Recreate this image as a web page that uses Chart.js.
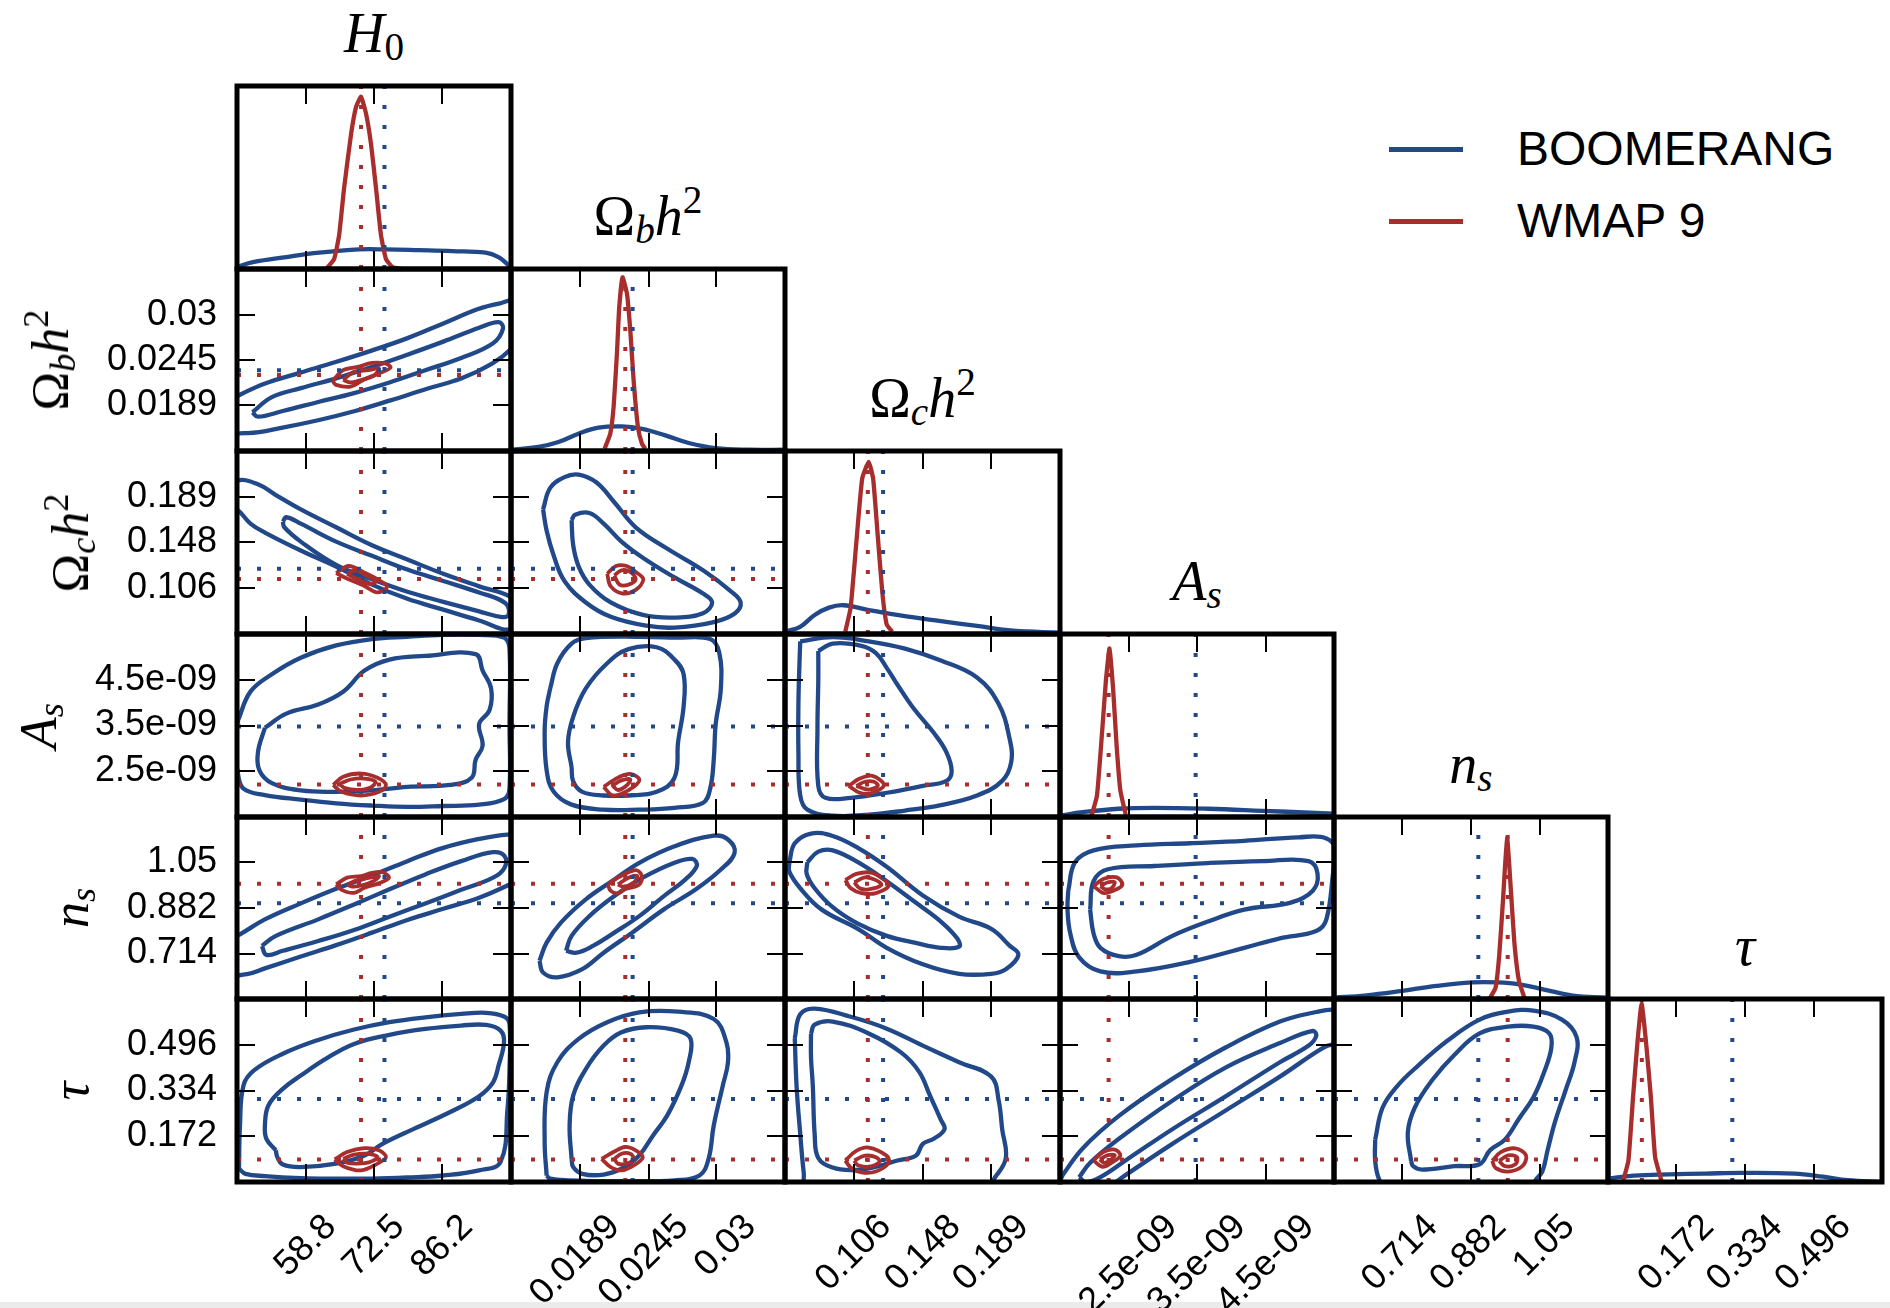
<!DOCTYPE html>
<html><head><meta charset="utf-8">
<script src="https://cdn.jsdelivr.net/npm/chart.js@4/dist/chart.umd.min.js"></script>
<style>
html,body{margin:0;padding:0;background:#fff;}
#wrap{position:relative;width:1890px;height:1308px;overflow:hidden;background:#fff;}
#wrap canvas{position:absolute;}
.math{position:absolute;font-family:'Liberation Serif','DejaVu Serif',serif;color:#000;white-space:nowrap;line-height:1;}
.math i{font-style:italic;}
.math sub,.math sup{font-size:0.7em;line-height:0;}
.math sub{vertical-align:-0.2em;}
.math sup{vertical-align:0.55em;}
.leg{position:absolute;font-family:'Liberation Sans',Arial,sans-serif;font-size:48px;line-height:1;color:#000;white-space:nowrap;}
.legline{position:absolute;height:5px;}
#band{position:absolute;left:0;top:1302px;width:1890px;height:6px;background:#ebebeb;}
</style></head>
<body><div id="wrap"><div id="band"></div></div>
<script>
// ---------------- DATA ----------------
const paramNames = ['H0', 'Omega_b h^2', 'Omega_c h^2', 'A_s', 'n_s', 'tau'];
const paramRanges = [[45, 100], [0.0133, 0.0356], [0.0645, 0.2305], [1.5e-9, 5.5e-9], [0.546, 1.218], [0.01, 0.658]];
const tickValues = [[58.8, 72.5, 86.2], [0.0189, 0.0245, 0.03], [0.106, 0.148, 0.189], [2.5e-9, 3.5e-9, 4.5e-9], [0.714, 0.882, 1.05], [0.172, 0.334, 0.496]];
const tickLabels = [['58.8', '72.5', '86.2'], ['0.0189', '0.0245', '0.03'], ['0.106', '0.148', '0.189'], ['2.5e-09', '3.5e-09', '4.5e-09'], ['0.714', '0.882', '1.05'], ['0.172', '0.334', '0.496']];
const seriesNames = ['BOOMERANG', 'WMAP 9'];
const wmapBest = [69.9, 0.0226, 0.1145, 2.21e-9, 0.972, 0.09];
const boomBest = [74.6, 0.0232, 0.1237, 3.48e-9, 0.9, 0.304];
const diagRange = [0, 1];

// 1D marginals (x value, normalised density)
const boomMarg_H0 = [[45,0.012],[48.2,0.037],[54.9,0.065],[61.5,0.089],[69.5,0.107],[74.9,0.107],[81.5,0.103],[88.2,0.098],[94.9,0.089],[97.5,0.065],[99.2,0.028],[100,0.006]];
const wmapMarg_H0 = [[62.9,0],[64.5,0.055],[65.5,0.185],[66.5,0.443],[67.9,0.738],[68.9,0.886],[69.9,0.941],[70.9,0.849],[71.9,0.683],[72.9,0.443],[73.9,0.185],[74.9,0.055],[76.2,0.01],[78,0]];
const boomMarg_obh2 = [[0.0133,0.007],[0.01553,0.022],[0.01716,0.049],[0.01879,0.095],[0.02042,0.128],[0.02233,0.135],[0.02396,0.122],[0.02586,0.086],[0.02777,0.044],[0.02995,0.016],[0.03266,0.007],[0.0356,0.007]];
const wmapMarg_obh2 = [[0.02092,0.013],[0.02138,0.095],[0.02165,0.241],[0.02192,0.534],[0.02211,0.79],[0.02238,0.954],[0.02274,0.863],[0.02301,0.662],[0.02328,0.388],[0.02363,0.132],[0.02396,0.04],[0.02423,0.013]];
const boomMarg_och2 = [[0.0645,0.013],[0.0736,0.039],[0.0824,0.104],[0.0911,0.144],[0.0998,0.157],[0.115,0.131],[0.1368,0.097],[0.1586,0.07],[0.1804,0.044],[0.2022,0.018],[0.2305,0.008]];
const wmapMarg_och2 = [[0.1009,0.013],[0.1041,0.144],[0.1074,0.483],[0.1111,0.849],[0.115,0.94],[0.1177,0.849],[0.1205,0.535],[0.1233,0.222],[0.1259,0.052],[0.1292,0.013]];
const boomMarg_As = [[1.5e-9,0.008],[1.83e-9,0.026],[2.355e-9,0.045],[2.879e-9,0.05],[3.665e-9,0.045],[4.452e-9,0.034],[4.976e-9,0.026],[5.5e-9,0.018]];
const wmapMarg_As = [[1.961e-9,0.008],[2.04e-9,0.118],[2.119e-9,0.487],[2.171e-9,0.75],[2.223e-9,0.921],[2.276e-9,0.697],[2.328e-9,0.382],[2.381e-9,0.145],[2.459e-9,0.013]];
const boomMarg_ns = [[0.546,0.008],[0.6209,0.019],[0.7089,0.043],[0.797,0.072],[0.8851,0.091],[0.9468,0.091],[1.0,0.081],[1.0613,0.052],[1.1317,0.019],[1.218,0.008]];
const wmapMarg_ns = [[0.9291,0.008],[0.9423,0.062],[0.9511,0.236],[0.96,0.526],[0.9705,0.884],[0.9802,0.584],[0.989,0.294],[0.9996,0.1],[1.0128,0.008]];
const boomMarg_tau = [[0.01,0.019],[0.0708,0.035],[0.1553,0.042],[0.2398,0.046],[0.3243,0.05],[0.451,0.046],[0.5186,0.029],[0.5777,0.01],[0.658,0.0]];
const wmapMarg_tau = [[0.0455,0.004],[0.0582,0.116],[0.0692,0.463],[0.0793,0.753],[0.0894,0.975],[0.1004,0.753],[0.1114,0.463],[0.1215,0.135],[0.1367,0.004]];

// 2D contours: [x, y] (x = column parameter, y = row parameter); 95% and 68% levels
const boom95_obh2_H0 = [[42.8,0.0193],[45.6,0.0202],[50.5,0.02155],[57.7,0.0229],[64.8,0.0242],[72.0,0.0256],[79.1,0.0271],[86.3,0.0289],[93.4,0.0307],[97.8,0.0314],[100.6,0.0316],[102.8,0.028],[100,0.0258],[96.2,0.024],[90.1,0.0222],[83.0,0.0209],[75.8,0.0195],[68.7,0.0182],[61.5,0.0171],[54.4,0.0162],[47.2,0.0155],[42.8,0.016]];
const boom68_obh2_H0 = [[48.1,0.01805],[52.0,0.0199],[57.8,0.021],[64.9,0.0222],[72.1,0.0236],[79.2,0.0251],[86.4,0.0267],[93.6,0.0284],[97.5,0.0291],[98.4,0.0283],[96.4,0.0265],[90.0,0.0247],[82.8,0.0232],[75.6,0.0217],[68.5,0.0204],[61.3,0.0193],[54.2,0.0182],[49.2,0.0175]];
const wmap95_obh2_H0 = [[64.2,0.0219],[66.3,0.0232],[69.2,0.0236],[72.1,0.0241],[74.9,0.024],[75.8,0.0235],[73.5,0.0228],[70.6,0.0221],[67.8,0.0212],[64.9,0.0214]];
const wmap68_obh2_H0 = [[66.3,0.022],[68.5,0.023],[71.4,0.0232],[73.5,0.0234],[72.4,0.0225],[69.9,0.022],[67.8,0.0217]];

const boom95_och2_H0 = [[42.7,0.1905],[45,0.2036],[49.2,0.2003],[52.8,0.1905],[57.8,0.1775],[64.9,0.1613],[72.1,0.145],[79.2,0.1321],[86.4,0.1191],[93.6,0.1077],[100,0.098],[102.9,0.0834],[100,0.0687],[93.6,0.0768],[86.4,0.0866],[79.2,0.0964],[72.1,0.1093],[64.9,0.1256],[57.8,0.1402],[50.6,0.1565],[47.7,0.1646],[45,0.1775],[42.7,0.1807]];
const boom68_och2_H0 = [[54.2,0.1663],[54.9,0.1704],[57.8,0.1646],[64.9,0.1483],[72.1,0.1354],[79.2,0.123],[86.4,0.1126],[93.6,0.1022],[98.9,0.0924],[99.5,0.0818],[97.9,0.0801],[93.6,0.085],[86.4,0.0937],[79.2,0.1028],[72.1,0.1141],[64.9,0.1272],[57.8,0.1483],[54.5,0.1613]];
const wmap95_och2_H0 = [[64.9,0.1198],[67.4,0.1262],[70.3,0.1208],[73.2,0.1141],[75.1,0.1077],[73.2,0.1022],[70.3,0.1087],[67.4,0.1141]];
const wmap68_och2_H0 = [[67.1,0.1191],[68.9,0.1223],[71.0,0.1175],[72.8,0.112],[71.4,0.11],[69.2,0.1141]];

const boom95_As_H0 = [[45.2,3.61e-9],[47.7,4.24e-9],[52.0,4.62e-9],[57.8,4.98e-9],[64.9,5.25e-9],[72.1,5.39e-9],[79.2,5.44e-9],[86.4,5.48e-9],[93.6,5.48e-9],[98.6,5.42e-9],[99.7,5.17e-9],[99.7,3.53e-9],[99.7,2.12e-9],[98.6,1.89e-9],[93.6,1.77e-9],[86.4,1.74e-9],[79.2,1.72e-9],[72.1,1.75e-9],[64.9,1.8e-9],[57.8,1.88e-9],[50.6,1.98e-9],[46.3,2.12e-9],[45.2,2.44e-9],[44.5,3.14e-9]];
const boom68_As_H0 = [[50.6,3.45e-9],[54.9,3.76e-9],[61.3,3.96e-9],[66.3,4.24e-9],[70.6,4.7e-9],[75.6,4.94e-9],[82.8,5.02e-9],[92.9,5.06e-9],[94.3,4.7e-9],[96.0,4.31e-9],[95.7,3.84e-9],[93.6,3.53e-9],[94.3,3.06e-9],[92.9,2.75e-9],[92.1,2.36e-9],[87.8,2.2e-9],[79.2,2.16e-9],[72.1,2.08e-9],[64.9,2.05e-9],[57.8,2.08e-9],[52.0,2.24e-9],[49.5,2.52e-9],[49.2,2.91e-9]];
const wmap95_As_H0 = [[64.3,2.2e-9],[66.3,2.38e-9],[69.9,2.45e-9],[73.2,2.36e-9],[74.9,2.2e-9],[73.5,2.05e-9],[69.9,1.97e-9],[66.0,2.05e-9]];
const wmap68_As_H0 = [[65.6,2.22e-9],[67.8,2.32e-9],[70.6,2.34e-9],[72.8,2.27e-9],[71.7,2.14e-9],[69.2,2.09e-9],[66.7,2.13e-9]];

const boom95_ns_H0 = [[42.7,0.76],[45.6,0.785],[50.6,0.84],[57.8,0.899],[64.9,0.953],[72.1,1.002],[79.2,1.055],[86.4,1.104],[93.6,1.137],[99.3,1.153],[101.4,1.147],[101.4,0.988],[99.3,0.965],[93.6,0.92],[86.4,0.879],[79.2,0.838],[72.1,0.791],[64.9,0.745],[57.8,0.703],[50.6,0.659],[47.0,0.638],[42.7,0.644]];
const boom68_ns_H0 = [[50.0,0.742],[52.8,0.779],[61.3,0.84],[68.5,0.895],[75.6,0.951],[82.8,1.006],[90.0,1.055],[96.4,1.088],[98.7,1.074],[98.7,1.031],[96.4,0.994],[90.0,0.949],[82.8,0.899],[75.6,0.85],[68.5,0.801],[61.3,0.76],[54.2,0.724],[50.9,0.709]];
const wmap95_ns_H0 = [[64.9,0.969],[67.1,0.994],[69.9,1.0],[72.1,1.012],[74.2,1.014],[75.5,0.994],[73.5,0.973],[70.6,0.957],[68.5,0.938],[66.0,0.949]];
const wmap68_ns_H0 = [[67.1,0.969],[69.2,0.985],[71.7,0.994],[73.5,1.0],[72.4,0.981],[69.9,0.965],[68.1,0.961]];

const boom95_tau_H0 = [[45.4,0.057],[45.6,0.21],[46.3,0.352],[48.4,0.405],[54.2,0.464],[61.3,0.513],[68.5,0.55],[75.6,0.576],[82.8,0.593],[90.0,0.605],[95.0,0.609],[98.6,0.596],[99.7,0.57],[99.7,0.41],[99.3,0.269],[97.9,0.081],[93.6,0.051],[86.4,0.033],[79.2,0.026],[72.1,0.022],[64.9,0.022],[57.8,0.024],[50.6,0.031],[46.7,0.039]];
const boom68_tau_H0 = [[52.8,0.122],[50.9,0.163],[50.6,0.21],[51.3,0.281],[54.2,0.34],[57.8,0.387],[62.8,0.446],[68.5,0.499],[75.6,0.531],[82.8,0.552],[90.0,0.564],[95.0,0.566],[97.9,0.546],[98.6,0.505],[97.5,0.422],[96.4,0.363],[93.6,0.314],[87.8,0.258],[80.6,0.199],[74.2,0.145],[70.6,0.104],[64.9,0.075],[57.8,0.063],[54.2,0.072],[53.1,0.098]];
const wmap95_tau_H0 = [[64.6,0.09],[67.1,0.116],[70.6,0.13],[73.5,0.122],[74.9,0.098],[73.2,0.075],[69.9,0.051],[66.3,0.066]];
const wmap68_tau_H0 = [[66.3,0.092],[68.5,0.107],[71.4,0.11],[73.2,0.098],[71.7,0.081],[69.2,0.075],[67.1,0.078]];

const boom95_och2_obh2 = [[0.01591,0.1775],[0.01649,0.197],[0.01765,0.2068],[0.01881,0.2091],[0.02026,0.2019],[0.02171,0.184],[0.02345,0.1613],[0.02603,0.1418],[0.02893,0.1223],[0.03125,0.1028],[0.03199,0.0931],[0.03154,0.0834],[0.0298,0.0753],[0.02661,0.0703],[0.02432,0.072],[0.02142,0.0801],[0.01939,0.0931],[0.01765,0.1126],[0.01678,0.1354],[0.0162,0.1581]];
const boom68_och2_obh2 = [[0.01823,0.1678],[0.01852,0.1727],[0.01968,0.1743],[0.02084,0.1646],[0.02229,0.1483],[0.02403,0.1337],[0.02661,0.1158],[0.02893,0.1012],[0.02967,0.0931],[0.02893,0.0834],[0.02661,0.0794],[0.02403,0.0818],[0.02142,0.0931],[0.01968,0.1093],[0.01881,0.1256],[0.01836,0.1451]];
const wmap95_och2_obh2 = [[0.02113,0.1191],[0.02184,0.1262],[0.02271,0.1262],[0.02345,0.1208],[0.02407,0.1141],[0.02345,0.1045],[0.02242,0.1012],[0.02142,0.1077]];
const wmap68_och2_obh2 = [[0.02171,0.1175],[0.02229,0.1223],[0.023,0.1208],[0.02345,0.1141],[0.02287,0.1093],[0.02213,0.1093]];

const boom95_As_obh2 = [[0.01649,4.31e-9],[0.01707,4.86e-9],[0.01823,5.29e-9],[0.01939,5.41e-9],[0.02374,5.44e-9],[0.02661,5.42e-9],[0.02951,5.39e-9],[0.03025,5.09e-9],[0.03038,4.31e-9],[0.02996,3.53e-9],[0.0298,2.75e-9],[0.02951,2.12e-9],[0.02893,1.81e-9],[0.02661,1.7e-9],[0.02374,1.66e-9],[0.02084,1.66e-9],[0.01823,1.77e-9],[0.01678,2.05e-9],[0.0162,2.52e-9],[0.01604,3.38e-9],[0.0162,3.92e-9]];
const boom68_As_obh2 = [[0.01823,2.59e-9],[0.01794,3.14e-9],[0.01836,3.69e-9],[0.01939,4.31e-9],[0.02113,4.86e-9],[0.02287,5.17e-9],[0.02516,5.21e-9],[0.02661,4.94e-9],[0.02735,4.62e-9],[0.02735,3.92e-9],[0.0269,3.14e-9],[0.02661,2.36e-9],[0.02516,2.05e-9],[0.02287,1.97e-9],[0.02084,1.97e-9],[0.0191,2.05e-9],[0.01836,2.28e-9]];
const wmap95_As_obh2 = [[0.02084,2.16e-9],[0.022,2.36e-9],[0.023,2.44e-9],[0.02374,2.32e-9],[0.02329,2.16e-9],[0.02229,2.01e-9],[0.02155,1.97e-9]];
const wmap68_As_obh2 = [[0.02155,2.19e-9],[0.02229,2.3e-9],[0.023,2.32e-9],[0.02271,2.19e-9],[0.022,2.09e-9]];

const boom95_ns_obh2 = [[0.01562,0.687],[0.0162,0.754],[0.01736,0.828],[0.01939,0.914],[0.02171,0.987],[0.02374,1.049],[0.02661,1.11],[0.0298,1.149],[0.03096,1.135],[0.0315,1.086],[0.03038,1.024],[0.02835,0.951],[0.02574,0.877],[0.02316,0.791],[0.02084,0.717],[0.0191,0.656],[0.01707,0.626],[0.01591,0.644]];
const boom68_ns_obh2 = [[0.01778,0.724],[0.01823,0.779],[0.01968,0.852],[0.02171,0.926],[0.02403,0.994],[0.02661,1.049],[0.02806,1.063],[0.02842,1.037],[0.02748,0.987],[0.02574,0.926],[0.02374,0.852],[0.02171,0.791],[0.01997,0.742],[0.01865,0.717]];
const wmap95_ns_obh2 = [[0.02117,0.969],[0.022,0.994],[0.02345,1.022],[0.02395,1.0],[0.02374,0.969],[0.02258,0.951],[0.022,0.936],[0.02142,0.945]];
const wmap68_ns_obh2 = [[0.022,0.969],[0.02287,0.994],[0.02358,1.0],[0.02329,0.975],[0.02242,0.961]];

const boom95_tau_obh2 = [[0.0162,0.033],[0.01604,0.151],[0.0162,0.328],[0.01707,0.434],[0.01881,0.517],[0.02113,0.576],[0.02374,0.611],[0.02689,0.613],[0.0298,0.587],[0.03083,0.505],[0.03096,0.434],[0.03054,0.352],[0.0298,0.21],[0.02938,0.092],[0.02864,0.033],[0.02661,0.016],[0.02229,0.013],[0.01794,0.016],[0.01649,0.022]];
const boom68_tau_obh2 = [[0.01823,0.092],[0.01807,0.21],[0.01836,0.316],[0.01939,0.41],[0.02084,0.493],[0.02229,0.54],[0.02432,0.558],[0.02689,0.546],[0.02792,0.517],[0.02776,0.434],[0.02718,0.352],[0.02602,0.246],[0.02486,0.175],[0.02373,0.104],[0.02229,0.057],[0.02084,0.036],[0.0191,0.039],[0.01836,0.063]];
const wmap95_tau_obh2 = [[0.02067,0.092],[0.02171,0.118],[0.02258,0.134],[0.02345,0.122],[0.02403,0.098],[0.02329,0.069],[0.02229,0.051],[0.02142,0.063]];
const wmap68_tau_obh2 = [[0.02171,0.092],[0.02229,0.11],[0.023,0.11],[0.02329,0.092],[0.02271,0.075],[0.022,0.075]];

const boom95_As_och2 = [[0.0737,5.34e-9],[0.0933,5.43e-9],[0.115,5.34e-9],[0.1369,5.18e-9],[0.1586,4.92e-9],[0.1804,4.55e-9],[0.1935,3.97e-9],[0.1999,3.24e-9],[0.2011,2.71e-9],[0.1956,2.29e-9],[0.1804,1.97e-9],[0.1586,1.76e-9],[0.1369,1.64e-9],[0.115,1.55e-9],[0.0933,1.53e-9],[0.078,1.66e-9],[0.0737,1.97e-9],[0.0726,2.92e-9],[0.0726,3.97e-9],[0.0732,4.82e-9]];
const boom68_As_och2 = [[0.0846,5.13e-9],[0.0933,5.29e-9],[0.1107,5.24e-9],[0.1194,5.08e-9],[0.1259,4.76e-9],[0.1324,4.39e-9],[0.1422,3.87e-9],[0.1543,3.34e-9],[0.1619,2.92e-9],[0.1651,2.5e-9],[0.1619,2.29e-9],[0.1477,2.18e-9],[0.1259,2.03e-9],[0.1042,1.92e-9],[0.0889,1.92e-9],[0.0846,2.18e-9],[0.0841,3.45e-9],[0.0846,4.5e-9]];
const wmap95_As_och2 = [[0.103,2.18e-9],[0.1096,2.34e-9],[0.1173,2.4e-9],[0.1242,2.2e-9],[0.1173,2.03e-9],[0.1096,2.03e-9]];
const wmap68_As_och2 = [[0.1075,2.18e-9],[0.1128,2.27e-9],[0.1183,2.27e-9],[0.1205,2.18e-9],[0.115,2.1e-9]];

const boom95_ns_och2 = [[0.0671,1.051],[0.0704,1.121],[0.0802,1.157],[0.0933,1.148],[0.1085,1.104],[0.1259,1.034],[0.1477,0.928],[0.1696,0.85],[0.189,0.805],[0.1999,0.744],[0.2054,0.709],[0.1978,0.656],[0.189,0.639],[0.1696,0.639],[0.1477,0.674],[0.1259,0.735],[0.1085,0.805],[0.0867,0.876],[0.0737,0.955],[0.0671,1.016]];
const boom68_ns_och2 = [[0.078,1.051],[0.0846,1.09],[0.0933,1.095],[0.1085,1.051],[0.1259,0.981],[0.1434,0.902],[0.1586,0.832],[0.1684,0.77],[0.1696,0.739],[0.1586,0.735],[0.1434,0.753],[0.1259,0.779],[0.1085,0.824],[0.0933,0.885],[0.0824,0.955],[0.0776,1.008]];
const wmap95_ns_och2 = [[0.1009,0.985],[0.1075,1.008],[0.1173,1.011],[0.1271,0.967],[0.1194,0.937],[0.1107,0.937],[0.1042,0.955]];
const wmap68_ns_och2 = [[0.1063,0.977],[0.1128,0.995],[0.1194,0.985],[0.1226,0.967],[0.115,0.951],[0.1096,0.955]];

const boom95_tau_och2 = [[0.0704,0.519],[0.0737,0.604],[0.0824,0.624],[0.1042,0.595],[0.1259,0.553],[0.1477,0.493],[0.1696,0.434],[0.189,0.383],[0.1935,0.298],[0.1956,0.197],[0.1978,0.095],[0.1913,0.027],[0.1826,-0.032],[0.1259,-0.041],[0.078,-0.032],[0.0758,0.044],[0.0737,0.18],[0.0715,0.349]];
const boom68_tau_och2 = [[0.0802,0.536],[0.0824,0.567],[0.0933,0.578],[0.115,0.536],[0.1347,0.468],[0.1455,0.4],[0.1521,0.315],[0.1586,0.23],[0.1608,0.197],[0.1543,0.163],[0.1477,0.145],[0.1434,0.103],[0.1324,0.086],[0.1173,0.061],[0.1042,0.052],[0.0933,0.061],[0.0846,0.095],[0.0824,0.18],[0.0813,0.349],[0.0802,0.451]];
const wmap95_tau_och2 = [[0.1009,0.086],[0.1075,0.12],[0.115,0.132],[0.1259,0.103],[0.1271,0.078],[0.1194,0.047],[0.1107,0.044],[0.1042,0.061]];
const wmap68_tau_och2 = [[0.1063,0.086],[0.1128,0.103],[0.1194,0.098],[0.1216,0.081],[0.115,0.064],[0.1085,0.069]];

const boom95_ns_As = [[1.62e-9,0.946],[1.72e-9,1.051],[1.99e-9,1.095],[2.62e-9,1.113],[3.4e-9,1.121],[4.19e-9,1.13],[4.98e-9,1.143],[5.39e-9,1.139],[5.55e-9,1.086],[5.5e-9,1.034],[5.39e-9,0.841],[5.24e-9,0.797],[4.71e-9,0.77],[4.19e-9,0.735],[3.4e-9,0.683],[2.62e-9,0.648],[2.09e-9,0.648],[1.78e-9,0.7],[1.65e-9,0.788],[1.61e-9,0.876]];
const boom68_ns_As = [[1.94e-9,0.876],[1.99e-9,0.981],[2.2e-9,1.025],[2.88e-9,1.037],[3.66e-9,1.048],[4.45e-9,1.055],[5.13e-9,1.055],[5.26e-9,1.008],[5.19e-9,0.946],[4.87e-9,0.902],[4.19e-9,0.876],[3.66e-9,0.832],[3.14e-9,0.779],[2.62e-9,0.709],[2.36e-9,0.704],[2.09e-9,0.735],[1.99e-9,0.788]];
const wmap95_ns_As = [[1.99e-9,0.963],[2.14e-9,0.99],[2.33e-9,0.995],[2.41e-9,0.967],[2.28e-9,0.946],[2.14e-9,0.937]];
const wmap68_ns_As = [[2.09e-9,0.963],[2.2e-9,0.977],[2.3e-9,0.977],[2.25e-9,0.955],[2.16e-9,0.951]];

const boom95_tau_As = [[1.54e-9,0.035],[1.83e-9,0.129],[2.36e-9,0.244],[3.14e-9,0.375],[3.93e-9,0.488],[4.71e-9,0.578],[5.24e-9,0.612],[5.5e-9,0.62],[5.66e-9,0.604],[5.66e-9,0.519],[5.34e-9,0.485],[4.71e-9,0.383],[3.93e-9,0.265],[3.14e-9,0.145],[2.41e-9,0.027],[2.09e-9,-0.024],[1.46e-9,-0.024]];
const boom68_tau_As = [[1.78e-9,0.027],[1.94e-9,0.078],[2.36e-9,0.163],[3.14e-9,0.298],[3.93e-9,0.417],[4.71e-9,0.502],[5.19e-9,0.545],[5.24e-9,0.527],[5.13e-9,0.493],[4.71e-9,0.434],[3.93e-9,0.315],[3.14e-9,0.197],[2.51e-9,0.095],[2.09e-9,0.027],[1.88e-9,0.01]];
const wmap95_tau_As = [[1.99e-9,0.086],[2.12e-9,0.115],[2.3e-9,0.125],[2.38e-9,0.103],[2.25e-9,0.078],[2.12e-9,0.064]];
const wmap68_tau_As = [[2.08e-9,0.09],[2.2e-9,0.105],[2.3e-9,0.105],[2.22e-9,0.085],[2.14e-9,0.078]];

const boom95_tau_ns = [[0.647,0.16],[0.665,0.273],[0.7,0.348],[0.753,0.423],[0.824,0.51],[0.903,0.585],[0.973,0.613],[1.035,0.617],[1.105,0.585],[1.141,0.523],[1.136,0.435],[1.114,0.335],[1.088,0.223],[1.07,0.123],[1.057,0.047],[1.043,0.022],[1.026,-0.009],[0.674,-0.009],[0.656,0.022],[0.647,0.085]];
const boom68_tau_ns = [[0.735,0.085],[0.727,0.185],[0.744,0.273],[0.788,0.373],[0.841,0.46],[0.903,0.536],[0.973,0.56],[1.035,0.56],[1.074,0.536],[1.079,0.485],[1.061,0.398],[1.035,0.31],[1.0,0.235],[0.965,0.16],[0.929,0.123],[0.903,0.073],[0.841,0.066],[0.762,0.054],[0.74,0.066]];
const wmap95_tau_ns = [[0.934,0.085],[0.955,0.116],[0.991,0.129],[1.017,0.104],[1.008,0.066],[0.973,0.047],[0.942,0.06]];
const wmap68_tau_ns = [[0.951,0.085],[0.973,0.104],[0.995,0.098],[0.991,0.073],[0.965,0.066]];

// lookups
const margBoom = [boomMarg_H0, boomMarg_obh2, boomMarg_och2, boomMarg_As, boomMarg_ns, boomMarg_tau];
const margWmap = [wmapMarg_H0, wmapMarg_obh2, wmapMarg_och2, wmapMarg_As, wmapMarg_ns, wmapMarg_tau];
const panelContours = {
  '1,0': [boom95_obh2_H0, boom68_obh2_H0, wmap95_obh2_H0, wmap68_obh2_H0],
  '2,0': [boom95_och2_H0, boom68_och2_H0, wmap95_och2_H0, wmap68_och2_H0],
  '3,0': [boom95_As_H0, boom68_As_H0, wmap95_As_H0, wmap68_As_H0],
  '4,0': [boom95_ns_H0, boom68_ns_H0, wmap95_ns_H0, wmap68_ns_H0],
  '5,0': [boom95_tau_H0, boom68_tau_H0, wmap95_tau_H0, wmap68_tau_H0],
  '2,1': [boom95_och2_obh2, boom68_och2_obh2, wmap95_och2_obh2, wmap68_och2_obh2],
  '3,1': [boom95_As_obh2, boom68_As_obh2, wmap95_As_obh2, wmap68_As_obh2],
  '4,1': [boom95_ns_obh2, boom68_ns_obh2, wmap95_ns_obh2, wmap68_ns_obh2],
  '5,1': [boom95_tau_obh2, boom68_tau_obh2, wmap95_tau_obh2, wmap68_tau_obh2],
  '3,2': [boom95_As_och2, boom68_As_och2, wmap95_As_och2, wmap68_As_och2],
  '4,2': [boom95_ns_och2, boom68_ns_och2, wmap95_ns_och2, wmap68_ns_och2],
  '5,2': [boom95_tau_och2, boom68_tau_och2, wmap95_tau_och2, wmap68_tau_och2],
  '4,3': [boom95_ns_As, boom68_ns_As, wmap95_ns_As, wmap68_ns_As],
  '5,3': [boom95_tau_As, boom68_tau_As, wmap95_tau_As, wmap68_tau_As],
  '5,4': [boom95_tau_ns, boom68_tau_ns, wmap95_tau_ns, wmap68_tau_ns]
};
const mathLabels = ['<i>H</i><sub>0</sub>', '\u03A9<sub><i>b</i></sub><i>h</i><sup>2</sup>', '\u03A9<sub><i>c</i></sub><i>h</i><sup>2</sup>', '<i>A</i><sub><i>s</i></sub>', '<i>n</i><sub><i>s</i></sub>', '<i>\u03C4</i>'];

// ---------------- LAYOUT / STYLE ----------------
const wrap = document.getElementById('wrap');
const BLUE = '#21498a', RED = '#a82d2d';
const colEdges = [237, 511, 785, 1060, 1334, 1608, 1882];
const rowEdges = [86, 269, 451, 634, 817, 999, 1182];
const M = 4, TL = 18, PAGE_H = 1308;
const TICK_FONT = {family: "'Liberation Sans', Arial, sans-serif", size: 36};

const mctx = document.createElement('canvas').getContext('2d');
mctx.font = "36px 'Liberation Sans', Arial, sans-serif";
const labelWidths = tickLabels.map(ls => ls.map(l => mctx.measureText(l).width));
const labelOffsets = labelWidths.map(ws => 0.354 * ws.reduce((s, w) => s + w, 0) / ws.length);

function pts(arr) { return arr.map(p => ({x: p[0], y: p[1]})); }
function loop(arr) { const p = pts(arr); p.push({x: arr[0][0], y: arr[0][1]}); return p; }
function line(data, color, width, tension, order, dash) {
  return {data, showLine: true, borderColor: color, backgroundColor: color, borderWidth: width,
    pointRadius: 0, pointHoverRadius: 0, tension, order, clip: 0, fill: false,
    borderDash: dash || [], borderCapStyle: 'butt', borderJoinStyle: 'round'};
}

function makePanel(i, j) {
  const left = colEdges[j], right = colEdges[j + 1], top = rowEdges[i], bottom = rowEdges[i + 1];
  const showY = (j === 0 && i > 0), showX = (i === 5);
  const x0 = showY ? 0 : left - M;
  const y0 = top - M;
  const x1 = right + M;
  const y1 = showX ? PAGE_H : bottom + M;
  const cv = document.createElement('canvas');
  cv.width = x1 - x0; cv.height = y1 - y0;
  cv.style.left = x0 + 'px'; cv.style.top = y0 + 'px';
  cv.style.width = (x1 - x0) + 'px'; cv.style.height = (y1 - y0) + 'px';
  wrap.appendChild(cv);

  const rx = paramRanges[j];
  const ry = (i === j) ? diagRange : paramRanges[i];
  const ds = [];
  const DOT = [4, 16];
  ds.push(line([{x: wmapBest[j], y: ry[0]}, {x: wmapBest[j], y: ry[1]}], RED, 4, 0, 0, DOT));
  ds.push(line([{x: boomBest[j], y: ry[0]}, {x: boomBest[j], y: ry[1]}], BLUE, 4, 0, 0, DOT));
  if (i !== j) {
    ds.push(line([{x: rx[0], y: wmapBest[i]}, {x: rx[1], y: wmapBest[i]}], RED, 4, 0, 0, DOT));
    ds.push(line([{x: rx[0], y: boomBest[i]}, {x: rx[1], y: boomBest[i]}], BLUE, 4, 0, 0, DOT));
    const c = panelContours[i + ',' + j];
    ds.push(line(loop(c[2]), RED, 3.8, 0.35, 1));
    ds.push(line(loop(c[3]), RED, 3.8, 0.35, 1));
    ds.push(line(loop(c[0]), BLUE, 4.3, 0.4, 2));
    ds.push(line(loop(c[1]), BLUE, 4.3, 0.4, 2));
  } else {
    ds.push(line(pts(margWmap[j]), RED, 4.3, 0.15, 1));
    ds.push(line(pts(margBoom[j]), BLUE, 4.3, 0.4, 2));
  }

  const framePlugin = {
    id: 'frame' + i + '_' + j,
    afterDraw(chart) {
      const {ctx, chartArea: a, scales} = chart;
      ctx.save();
      ctx.strokeStyle = '#000';
      ctx.lineWidth = 2;
      ctx.beginPath();
      tickValues[j].forEach(v => {
        const x = Math.round(scales.x.getPixelForValue(v));
        ctx.moveTo(x, a.bottom); ctx.lineTo(x, a.bottom - TL);
        ctx.moveTo(x, a.top); ctx.lineTo(x, a.top + TL);
      });
      if (i !== j) {
        tickValues[i].forEach(v => {
          const y = Math.round(scales.y.getPixelForValue(v));
          ctx.moveTo(a.left, y); ctx.lineTo(a.left + TL, y);
          ctx.moveTo(a.right, y); ctx.lineTo(a.right - TL, y);
        });
      }
      ctx.stroke();
      ctx.lineWidth = 5;
      ctx.strokeRect(a.left, a.top, a.right - a.left, a.bottom - a.top);
      ctx.restore();
    }
  };

  const xFitH = showX ? PAGE_H - bottom : 0;
  const yFitW = showY ? left - x0 : 0;
  new Chart(cv, {
    type: 'scatter',
    data: {datasets: ds},
    plugins: [framePlugin],
    options: {
      responsive: false, animation: false, devicePixelRatio: 1, events: [],
      layout: {padding: {left: showY ? 0 : M, right: M, top: M, bottom: showX ? 0 : M}, autoPadding: false},
      plugins: {legend: {display: false}, tooltip: {enabled: false}},
      scales: {
        x: {
          type: 'linear', min: rx[0], max: rx[1], display: showX, position: 'bottom',
          grid: {display: false, drawTicks: false}, border: {display: false},
          afterBuildTicks: s => { s.ticks = tickValues[j].map(v => ({value: v})); },
          afterFit: s => { s.height = xFitH; s.paddingLeft = 0; s.paddingRight = 0; s.paddingTop = 0; s.paddingBottom = 0; },
          ticks: {autoSkip: false, minRotation: 45, maxRotation: 45, padding: 24, labelOffset: labelOffsets[j],
            color: '#000', font: TICK_FONT, callback: (v, idx) => tickLabels[j][idx]}
        },
        y: {
          type: 'linear', min: ry[0], max: ry[1], display: showY, position: 'left',
          grid: {display: false, drawTicks: false}, border: {display: false},
          afterBuildTicks: s => { s.ticks = tickValues[i].map(v => ({value: v})); },
          afterFit: s => { s.width = yFitW; s.paddingLeft = 0; s.paddingRight = 0; s.paddingTop = 0; s.paddingBottom = 0; },
          ticks: {autoSkip: false, padding: 20, color: '#000', font: TICK_FONT, callback: (v, idx) => tickLabels[i][idx]}
        }
      }
    }
  });
}

for (let i = 0; i < 6; i++) for (let j = 0; j <= i; j++) makePanel(i, j);

// titles above diagonal panels
const TITLE_SIZE = 56, YLAB_SIZE = 52;
for (let k = 0; k < 6; k++) {
  const d = document.createElement('div');
  d.className = 'math';
  d.style.fontSize = TITLE_SIZE + 'px';
  d.innerHTML = mathLabels[k];
  const cx = (colEdges[k] + colEdges[k + 1]) / 2;
  const baseline = rowEdges[k] - 34;
  d.style.left = cx + 'px';
  d.style.top = (baseline - 0.8375 * TITLE_SIZE) + 'px';
  d.style.transform = 'translateX(-50%)';
  wrap.appendChild(d);
}
// rotated y labels
for (let k = 1; k < 6; k++) {
  const d = document.createElement('div');
  d.className = 'math';
  d.style.fontSize = YLAB_SIZE + 'px';
  d.innerHTML = mathLabels[k];
  const maxW = Math.max(...labelWidths[k]);
  const tickLeft = colEdges[0] - 20 - maxW;
  const baseX = tickLeft - 38;
  const cx = baseX - (YLAB_SIZE / 2 - (1 - 0.8375) * YLAB_SIZE);
  const cy = (rowEdges[k] + rowEdges[k + 1]) / 2;
  d.style.left = cx + 'px';
  d.style.top = cy + 'px';
  d.style.transform = 'translate(-50%,-50%) rotate(-90deg)';
  wrap.appendChild(d);
}
// legend
[[seriesNames[0], BLUE, 149], [seriesNames[1], RED, 221]].forEach(([name, color, yc]) => {
  const l = document.createElement('div');
  l.className = 'legline';
  l.style.left = '1389px'; l.style.width = '74px'; l.style.top = (yc - 2.5) + 'px'; l.style.background = color;
  wrap.appendChild(l);
  const t = document.createElement('div');
  t.className = 'leg';
  t.style.left = '1517px'; t.style.top = (yc - 24) + 'px';
  t.textContent = name;
  wrap.appendChild(t);
});
</script>
</body></html>
